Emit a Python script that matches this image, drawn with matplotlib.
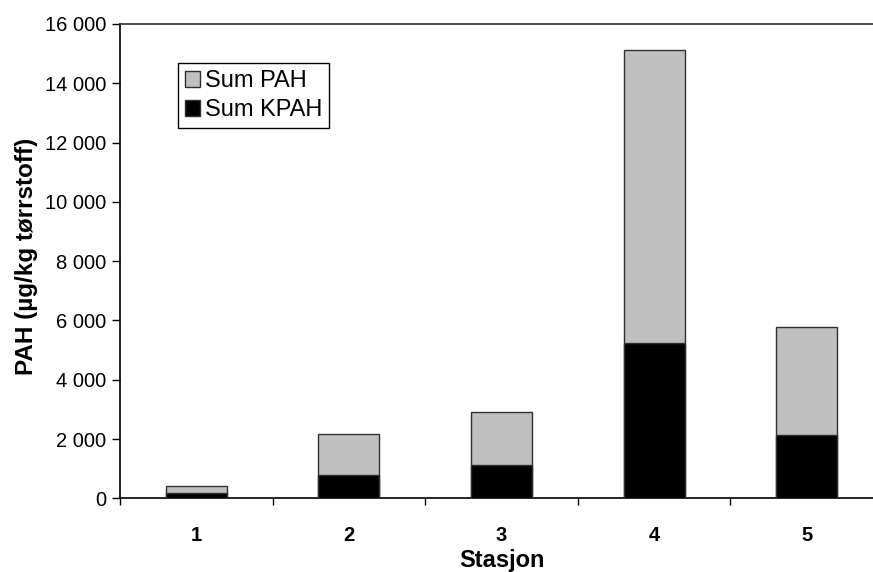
import numpy as np
import matplotlib.pyplot as plt

plt.rcParams['font.family'] = ['Liberation Sans', 'DejaVu Sans']

# Data
stasjoner = ['1', '2', '3', '4', '5']
sum_pah = [400, 2160, 2920, 15130, 5790]
sum_kpah = [165, 775, 1135, 5250, 2135]

fig = plt.figure(figsize=(8.73, 5.72), dpi=100)
ax = fig.add_axes([0.1375, 0.1288, 0.874, 0.8293])

x = np.arange(len(stasjoner))
ax.bar(x, sum_pah, width=0.4, color='#c0c0c0', edgecolor='#303030', linewidth=1, label='Sum PAH', zorder=2)
ax.bar(x, sum_kpah, width=0.4, color='black', edgecolor='#303030', linewidth=1, label='Sum KPAH', zorder=3)

ax.set_xlim(-0.5, len(stasjoner) - 0.5)
ax.set_ylim(0, 16000)
ax.set_yticks(np.arange(0, 16001, 2000))
ax.set_yticklabels([f'{v:,}'.replace(',', ' ') for v in range(0, 16001, 2000)], fontsize=14.5)
ax.set_xticks(x)
ax.set_xticklabels(stasjoner, fontsize=14.5, fontweight='bold')
ax.set_xticks(np.arange(-0.5, len(stasjoner), 1), minor=True)
ax.tick_params(axis='x', which='major', length=0, pad=20)
ax.tick_params(axis='x', which='minor', length=5, direction='out', width=1)
ax.tick_params(axis='y', length=6, direction='out', width=1, pad=4)

ax.spines['right'].set_visible(False)
for s in ['left', 'bottom', 'top']:
    ax.spines[s].set_linewidth(1.2)
ax.spines['top'].set_color('#303030')

ax.set_xlabel('Stasjon', fontsize=17, fontweight='bold', labelpad=3)
ax.set_ylabel('PAH (µg/kg tørrstoff)', fontsize=17.5, fontweight='bold')
ax.yaxis.set_label_coords(-0.108, 0.51)

leg = ax.legend(loc='upper left', bbox_to_anchor=(0.0755, 0.918), fontsize=17, frameon=True,
                fancybox=False, edgecolor='black', framealpha=1, handlelength=0.65,
                handleheight=0.65, handletextpad=0.2, borderpad=0.3, labelspacing=0.3,
                borderaxespad=0)
leg.get_frame().set_linewidth(1)

fig.savefig('out.png', dpi=100)
